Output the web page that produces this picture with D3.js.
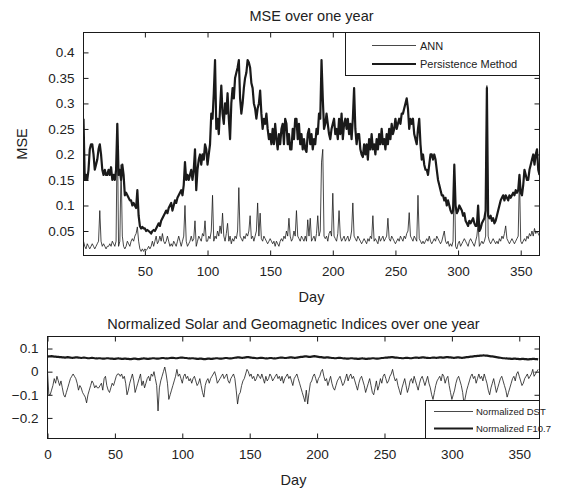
<!DOCTYPE html>
<html><head><meta charset="utf-8">
<script src="https://cdn.jsdelivr.net/npm/d3@7"></script>
<style>body{margin:0;background:#fff}svg{display:block;font-family:"Liberation Sans",Arial,sans-serif}</style>
</head><body><svg id="c" width="573" height="492"></svg>
<script>
// ---- Top panel data (days 1..365) ----
const persistence = [
0.27,0.15,0.16,0.15,0.17,0.21,0.22,0.22,0.20,0.17,
0.18,0.19,0.21,0.22,0.20,0.17,0.16,0.17,0.16,0.16,
0.17,0.16,0.175,0.15,0.16,0.15,0.17,0.26,0.16,0.17,
0.15,0.18,0.16,0.12,0.125,0.12,0.115,0.11,0.11,0.10,
0.105,0.10,0.095,0.13,0.08,0.06,0.055,0.058,0.055,0.055,
0.05,0.052,0.05,0.048,0.045,0.05,0.052,0.05,0.055,0.06,
0.065,0.06,0.07,0.075,0.08,0.085,0.09,0.085,0.095,0.10,
0.105,0.09,0.10,0.11,0.105,0.115,0.12,0.125,0.13,0.12,
0.14,0.185,0.15,0.16,0.15,0.16,0.17,0.15,0.17,0.21,
0.13,0.17,0.19,0.20,0.18,0.20,0.19,0.22,0.21,0.18,
0.20,0.22,0.28,0.27,0.32,0.385,0.25,0.27,0.24,0.29,
0.335,0.28,0.26,0.30,0.28,0.32,0.27,0.23,0.30,0.33,
0.31,0.35,0.36,0.37,0.385,0.31,0.28,0.30,0.33,0.35,
0.36,0.385,0.38,0.37,0.34,0.33,0.30,0.29,0.27,0.29,
0.30,0.325,0.28,0.25,0.27,0.26,0.28,0.25,0.23,0.24,
0.22,0.25,0.22,0.26,0.23,0.21,0.24,0.22,0.25,0.26,
0.22,0.27,0.26,0.22,0.24,0.21,0.21,0.25,0.23,0.27,
0.27,0.23,0.26,0.22,0.24,0.21,0.23,0.21,0.205,0.24,
0.25,0.22,0.24,0.21,0.23,0.22,0.25,0.24,0.28,0.27,
0.385,0.31,0.25,0.26,0.28,0.26,0.24,0.23,0.25,0.26,
0.27,0.24,0.25,0.23,0.27,0.24,0.28,0.23,0.26,0.27,
0.25,0.27,0.24,0.26,0.23,0.27,0.33,0.25,0.22,0.24,
0.24,0.21,0.20,0.195,0.22,0.20,0.22,0.19,0.23,0.21,
0.24,0.21,0.22,0.20,0.23,0.21,0.24,0.22,0.25,0.22,
0.23,0.21,0.24,0.22,0.25,0.23,0.26,0.24,0.25,0.27,
0.25,0.26,0.27,0.26,0.28,0.28,0.29,0.30,0.31,0.29,
0.25,0.27,0.26,0.27,0.24,0.23,0.22,0.25,0.27,0.22,
0.19,0.20,0.18,0.17,0.17,0.16,0.18,0.20,0.20,0.19,
0.20,0.19,0.17,0.15,0.14,0.13,0.12,0.12,0.11,0.115,
0.10,0.11,0.10,0.09,0.085,0.09,0.18,0.10,0.085,0.09,
0.10,0.095,0.09,0.08,0.085,0.07,0.065,0.06,0.07,0.065,
0.07,0.075,0.065,0.06,0.06,0.10,0.05,0.055,0.065,0.07,
0.075,0.09,0.33,0.08,0.075,0.08,0.07,0.075,0.065,0.07,
0.08,0.09,0.10,0.11,0.115,0.12,0.11,0.12,0.115,0.11,
0.12,0.115,0.12,0.125,0.12,0.13,0.125,0.13,0.16,0.125,
0.12,0.14,0.17,0.16,0.15,0.15,0.17,0.18,0.19,0.20,
0.18,0.20,0.21,0.17,0.16];
const ann = [
0.03,0.02,0.015,0.025,0.02,0.015,0.02,0.025,0.02,0.015,
0.02,0.025,0.03,0.09,0.03,0.02,0.025,0.02,0.015,0.02,
0.02,0.025,0.02,0.03,0.025,0.02,0.03,0.26,0.02,0.03,
0.18,0.04,0.02,0.015,0.02,0.03,0.025,0.02,0.03,0.035,
0.03,0.04,0.045,0.058,0.03,0.015,0.01,0.015,0.01,0.015,
0.012,0.015,0.02,0.015,0.02,0.03,0.02,0.03,0.04,0.025,
0.03,0.04,0.03,0.045,0.03,0.025,0.03,0.04,0.03,0.02,
0.025,0.02,0.03,0.025,0.02,0.03,0.04,0.03,0.02,0.03,
0.04,0.10,0.03,0.02,0.025,0.03,0.04,0.03,0.035,0.07,
0.02,0.03,0.04,0.035,0.03,0.045,0.04,0.07,0.03,0.03,
0.04,0.035,0.05,0.12,0.03,0.04,0.035,0.05,0.04,0.06,
0.045,0.085,0.04,0.03,0.045,0.065,0.03,0.04,0.025,0.035,
0.03,0.04,0.035,0.05,0.135,0.04,0.035,0.03,0.04,0.035,
0.045,0.04,0.05,0.08,0.035,0.04,0.03,0.04,0.05,0.105,
0.04,0.085,0.035,0.03,0.04,0.035,0.03,0.025,0.03,0.035,
0.03,0.025,0.03,0.02,0.03,0.025,0.02,0.03,0.035,0.03,
0.04,0.035,0.05,0.04,0.075,0.04,0.03,0.035,0.05,0.04,
0.09,0.04,0.035,0.03,0.04,0.035,0.03,0.04,0.03,0.072,
0.04,0.075,0.03,0.035,0.04,0.03,0.045,0.08,0.04,0.05,
0.185,0.21,0.04,0.035,0.04,0.03,0.045,0.05,0.04,0.124,
0.04,0.035,0.03,0.045,0.09,0.04,0.03,0.035,0.04,0.03,
0.035,0.04,0.03,0.035,0.05,0.105,0.04,0.035,0.03,0.04,
0.035,0.03,0.025,0.03,0.035,0.03,0.025,0.035,0.03,0.04,
0.035,0.08,0.03,0.035,0.03,0.025,0.04,0.03,0.035,0.04,
0.03,0.035,0.04,0.075,0.035,0.03,0.04,0.035,0.03,0.025,
0.03,0.035,0.03,0.04,0.035,0.03,0.04,0.035,0.045,0.05,
0.086,0.04,0.035,0.03,0.04,0.035,0.03,0.12,0.035,0.03,
0.025,0.03,0.025,0.03,0.035,0.03,0.04,0.03,0.025,0.03,
0.035,0.03,0.04,0.035,0.03,0.025,0.03,0.04,0.05,0.03,
0.025,0.03,0.02,0.025,0.02,0.03,0.17,0.02,0.015,0.025,
0.03,0.02,0.025,0.03,0.035,0.03,0.025,0.02,0.03,0.035,
0.03,0.025,0.02,0.03,0.04,0.065,0.02,0.025,0.03,0.025,
0.03,0.04,0.335,0.04,0.03,0.025,0.03,0.035,0.03,0.025,
0.03,0.025,0.035,0.03,0.04,0.035,0.045,0.06,0.035,0.03,
0.025,0.03,0.035,0.03,0.025,0.03,0.035,0.04,0.16,0.03,
0.025,0.03,0.035,0.03,0.04,0.035,0.045,0.04,0.05,0.04,
0.055,0.045,0.05,0.045,0.04];
// ---- Bottom panel data (days 0..364) ----
const dst = [
0.0,-0.10,-0.10,-0.08,-0.06,-0.03,-0.05,-0.02,-0.04,-0.06,
-0.04,-0.07,-0.10,-0.11,-0.09,-0.07,-0.05,-0.03,-0.02,-0.01,
-0.02,-0.03,-0.05,-0.08,-0.06,-0.07,-0.09,-0.10,-0.11,-0.135,
-0.10,-0.08,-0.06,-0.04,-0.05,-0.07,-0.06,-0.07,-0.07,-0.06,
-0.05,-0.08,-0.03,-0.02,-0.06,-0.08,-0.09,-0.07,-0.05,-0.06,
-0.04,-0.02,-0.01,-0.01,-0.02,-0.01,-0.03,-0.02,-0.05,-0.10,
-0.08,-0.05,-0.03,-0.01,-0.04,-0.09,-0.07,-0.05,-0.03,-0.01,
-0.06,-0.04,-0.07,-0.05,-0.03,-0.02,-0.04,-0.01,-0.02,0.0,
-0.03,-0.06,-0.17,-0.07,-0.04,-0.02,0.0,0.02,-0.01,-0.05,
-0.12,-0.10,-0.08,-0.06,-0.04,-0.02,0.01,-0.02,-0.01,-0.03,
-0.05,-0.02,-0.01,-0.03,-0.02,-0.04,-0.03,-0.05,-0.03,-0.02,
-0.04,-0.06,-0.05,-0.03,-0.06,-0.09,-0.11,-0.06,-0.04,-0.03,
-0.05,-0.03,-0.02,-0.01,0.0,-0.02,-0.05,-0.04,-0.03,-0.02,
-0.01,-0.03,-0.02,-0.01,-0.04,-0.05,-0.03,-0.02,-0.01,-0.03,
-0.08,-0.14,-0.10,-0.09,-0.06,-0.04,-0.03,-0.01,0.01,0.0,
-0.02,-0.01,-0.03,-0.02,-0.04,-0.03,-0.01,-0.02,-0.03,-0.01,
-0.03,-0.05,-0.02,-0.04,-0.03,-0.01,-0.02,-0.04,-0.03,-0.02,
-0.01,-0.03,-0.02,-0.04,-0.02,-0.05,-0.03,-0.02,-0.01,-0.03,
-0.02,-0.04,-0.06,-0.03,-0.02,-0.01,-0.03,-0.05,-0.07,-0.09,
-0.11,-0.13,-0.08,-0.14,-0.09,-0.05,-0.04,-0.02,-0.01,-0.03,
-0.05,-0.03,-0.02,0.0,0.01,-0.02,-0.04,-0.03,-0.06,-0.04,
-0.02,-0.05,-0.07,-0.08,-0.06,-0.04,-0.03,-0.02,-0.04,-0.06,
-0.05,-0.03,-0.01,-0.04,-0.02,-0.01,-0.03,-0.02,-0.04,-0.06,
-0.08,-0.05,-0.03,-0.02,-0.04,-0.06,-0.09,-0.07,-0.05,-0.03,
-0.06,-0.09,-0.10,-0.07,-0.04,-0.08,-0.06,-0.03,-0.05,-0.02,
-0.01,-0.03,-0.05,-0.04,-0.02,-0.01,0.01,-0.02,-0.04,-0.03,
-0.06,-0.08,-0.10,-0.07,-0.05,-0.03,-0.06,-0.09,-0.07,-0.04,
-0.03,-0.05,-0.02,-0.04,-0.06,-0.08,-0.05,-0.03,-0.02,-0.04,
-0.06,-0.04,-0.02,-0.05,-0.07,-0.10,-0.12,-0.09,-0.06,-0.04,
-0.03,-0.02,-0.04,-0.01,-0.02,-0.05,-0.03,-0.02,-0.06,-0.09,
-0.12,-0.10,-0.08,-0.05,-0.03,-0.02,-0.04,-0.06,-0.09,-0.14,
-0.11,-0.08,-0.06,-0.04,-0.02,-0.01,-0.03,-0.02,-0.05,-0.03,
-0.01,-0.03,-0.02,-0.04,-0.01,-0.03,-0.05,-0.08,-0.10,-0.07,
-0.05,-0.03,-0.06,-0.09,-0.07,-0.05,-0.03,-0.02,-0.04,-0.06,
-0.08,-0.11,-0.09,-0.07,-0.05,-0.03,-0.02,-0.04,-0.01,0.0,
-0.02,-0.04,-0.06,-0.05,-0.03,-0.02,-0.01,-0.03,-0.02,-0.01,
0.01,-0.02,-0.01,0.0,0.01];
const f107 = [
0.065,0.066,0.066,0.067,0.066,0.065,0.065,0.064,0.064,0.063,
0.063,0.062,0.062,0.061,0.062,0.063,0.062,0.061,0.060,0.060,
0.061,0.062,0.062,0.061,0.060,0.059,0.060,0.061,0.060,0.059,
0.058,0.058,0.059,0.060,0.059,0.058,0.057,0.057,0.058,0.058,
0.057,0.056,0.056,0.057,0.058,0.058,0.057,0.056,0.056,0.055,
0.055,0.056,0.057,0.057,0.056,0.055,0.055,0.056,0.056,0.055,
0.055,0.054,0.054,0.055,0.056,0.056,0.055,0.054,0.054,0.055,
0.056,0.057,0.057,0.056,0.055,0.055,0.056,0.057,0.058,0.058,
0.057,0.056,0.056,0.057,0.058,0.059,0.059,0.058,0.057,0.057,
0.058,0.059,0.060,0.060,0.059,0.058,0.058,0.059,0.060,0.061,
0.061,0.060,0.059,0.059,0.058,0.057,0.057,0.058,0.058,0.057,
0.056,0.055,0.055,0.056,0.056,0.055,0.054,0.054,0.055,0.056,
0.056,0.055,0.055,0.056,0.057,0.058,0.058,0.057,0.056,0.056,
0.057,0.058,0.059,0.059,0.058,0.057,0.057,0.058,0.059,0.060,
0.061,0.062,0.062,0.061,0.060,0.060,0.061,0.062,0.063,0.063,
0.062,0.061,0.060,0.060,0.059,0.058,0.058,0.059,0.060,0.060,
0.059,0.058,0.057,0.057,0.058,0.059,0.059,0.058,0.057,0.057,
0.058,0.059,0.060,0.061,0.061,0.060,0.059,0.059,0.060,0.061,
0.062,0.062,0.061,0.060,0.060,0.061,0.062,0.063,0.064,0.064,
0.065,0.066,0.066,0.065,0.064,0.064,0.065,0.066,0.067,0.066,
0.065,0.064,0.063,0.063,0.062,0.061,0.061,0.062,0.062,0.061,
0.060,0.059,0.059,0.058,0.058,0.059,0.060,0.060,0.059,0.058,
0.057,0.057,0.056,0.056,0.057,0.058,0.058,0.057,0.056,0.056,
0.055,0.055,0.056,0.057,0.057,0.056,0.055,0.055,0.056,0.056,
0.057,0.058,0.058,0.057,0.056,0.056,0.057,0.058,0.059,0.059,
0.060,0.061,0.061,0.062,0.062,0.063,0.063,0.062,0.061,0.061,
0.060,0.059,0.059,0.058,0.058,0.059,0.060,0.060,0.059,0.058,
0.058,0.059,0.060,0.061,0.061,0.060,0.060,0.061,0.062,0.062,
0.061,0.060,0.060,0.059,0.059,0.060,0.061,0.061,0.060,0.060,
0.061,0.062,0.062,0.061,0.061,0.062,0.063,0.063,0.062,0.062,
0.061,0.060,0.060,0.061,0.062,0.062,0.061,0.060,0.060,0.061,
0.062,0.063,0.063,0.064,0.065,0.065,0.066,0.067,0.067,0.068,
0.068,0.069,0.069,0.070,0.070,0.069,0.069,0.068,0.067,0.066,
0.066,0.065,0.064,0.063,0.062,0.061,0.060,0.059,0.058,0.058,
0.057,0.057,0.056,0.056,0.055,0.055,0.056,0.056,0.055,0.055,
0.054,0.054,0.055,0.055,0.054,0.054,0.053,0.053,0.054,0.054,
0.055,0.055,0.054,0.054,0.053];

const topXTicks = [50,100,150,200,250,300,350];
const topYTicks = [0.05,0.1,0.15,0.2,0.25,0.3,0.35,0.4];
const botXTicks = [0,50,100,150,200,250,300,350];
const botYTicks = [-0.2,-0.1,0,0.1];
const topLegend = ["ANN","Persistence Method"];
const botLegend = ["Normalized DST","Normalized F10.7"];

const svg = d3.select("#c");
const ink = "#1a1a1a";
const tickLen = 5;

function panel(box, xDom, yDom, xTicks, yTicks, fmtY) {
  const x = d3.scaleLinear().domain(xDom).range([box.l, box.r]);
  const y = d3.scaleLinear().domain(yDom).range([box.b, box.t]);
  const g = svg.append("g");
  const ax = (gen, tr) => g.append("g").attr("transform", tr).call(gen)
     .call(s => { s.select(".domain").remove(); s.selectAll("line").attr("stroke", ink); s.selectAll("text").attr("fill", "#222").style("font-size","13.5px").style("font-family",'"Liberation Sans",Arial,sans-serif'); });
  ax(d3.axisBottom(x).tickValues(xTicks).tickSizeInner(-tickLen).tickPadding(11).tickFormat(d3.format("d")), `translate(0,${box.b})`);
  ax(d3.axisTop(x).tickValues(xTicks).tickSizeInner(-tickLen).tickFormat(""), `translate(0,${box.t})`);
  ax(d3.axisLeft(y).tickValues(yTicks).tickSizeInner(-tickLen).tickPadding(9).tickFormat(fmtY), `translate(${box.l},0)`);
  ax(d3.axisRight(y).tickValues(yTicks).tickSizeInner(-tickLen).tickFormat(""), `translate(${box.r},0)`);
  g.append("rect").attr("x", box.l).attr("y", box.t).attr("width", box.r - box.l).attr("height", box.b - box.t)
    .attr("fill", "none").attr("stroke", ink).attr("stroke-width", 1);
  const clipId = "clip" + Math.round(box.t);
  svg.append("clipPath").attr("id", clipId).append("rect")
    .attr("x", box.l).attr("y", box.t).attr("width", box.r - box.l).attr("height", box.b - box.t);
  return {x, y, g, clipId};
}

const fmtTop = d => d3.format("")(+d.toFixed(2));
const fmtBot = d => d === 0 ? "0" : d3.format("")(+d.toFixed(1));

// ---- Top panel ----
const T = {l: 83.5, r: 539.5, t: 32.5, b: 255.5};
const p1 = panel(T, [1, 365], [0.002, 0.439], topXTicks, topYTicks, fmtTop);
const line1 = d3.line().x((d, i) => p1.x(i + 1)).y(d => p1.y(d));
const lines1 = svg.append("g").attr("clip-path", `url(#${p1.clipId})`);
lines1.append("path").datum(ann).attr("d", line1).attr("fill", "none").attr("stroke", ink).attr("stroke-width", 0.8).attr("stroke-linejoin","round");
lines1.append("path").datum(persistence).attr("d", line1).attr("fill", "none").attr("stroke", ink).attr("stroke-width", 2.2).attr("stroke-linejoin","round");

svg.append("text").attr("x", (T.l + T.r) / 2).attr("y", 21).attr("text-anchor", "middle")
  .style("font-size", "14.5px").attr("fill", "#222").text("MSE over one year");
svg.append("text").attr("x", (T.l + T.r) / 2).attr("y", 302).attr("text-anchor", "middle")
  .style("font-size", "14.5px").attr("fill", "#222").text("Day");
svg.append("text").attr("transform", `translate(27,${(T.t + T.b) / 2}) rotate(-90)`).attr("text-anchor", "middle")
  .style("font-size", "14.5px").attr("fill", "#222").text("MSE");

const L1 = {l: 345.5, t: 32.5, r: 539.5, b: 75.5};
svg.append("rect").attr("x", L1.l).attr("y", L1.t).attr("width", L1.r - L1.l).attr("height", L1.b - L1.t)
  .attr("fill", "#fff").attr("stroke", ink);
topLegend.forEach((name, i) => {
  const yy = 45.5 + i * 18.5;
  svg.append("line").attr("x1", 372).attr("x2", 416).attr("y1", yy).attr("y2", yy)
    .attr("stroke", ink).attr("stroke-width", i === 0 ? 0.8 : 2.2);
  svg.append("text").attr("x", 420).attr("y", yy + 4).style("font-size", "11px").attr("fill", "#222").text(name);
});

// ---- Bottom panel ----
const B = {l: 47.5, r: 539.5, t: 336.5, b: 438.5};
const p2 = panel(B, [0, 365], [-0.289, 0.152], botXTicks, botYTicks, fmtBot);
const line2 = d3.line().x((d, i) => p2.x(i)).y(d => p2.y(d));
const lines2 = svg.append("g").attr("clip-path", `url(#${p2.clipId})`);
lines2.append("path").datum(dst).attr("d", line2).attr("fill", "none").attr("stroke", ink).attr("stroke-width", 0.8).attr("stroke-linejoin","round");
lines2.append("path").datum(f107).attr("d", line2).attr("fill", "none").attr("stroke", ink).attr("stroke-width", 2.2).attr("stroke-linejoin","round");

svg.append("text").attr("x", (B.l + B.r) / 2).attr("y", 329).attr("text-anchor", "middle")
  .style("font-size", "14.5px").attr("fill", "#222").text("Normalized Solar and Geomagnetic Indices over one year");
svg.append("text").attr("x", (B.l + B.r) / 2).attr("y", 485).attr("text-anchor", "middle")
  .style("font-size", "14.5px").attr("fill", "#222").text("Day");

const L2 = {l: 425.5, t: 400.5, r: 539.5, b: 438.5};
svg.append("rect").attr("x", L2.l).attr("y", L2.t).attr("width", L2.r - L2.l).attr("height", L2.b - L2.t)
  .attr("fill", "#fff").attr("stroke", ink);
botLegend.forEach((name, i) => {
  const yy = 411.5 + i * 17;
  svg.append("line").attr("x1", 434).attr("x2", 473).attr("y1", yy).attr("y2", yy)
    .attr("stroke", ink).attr("stroke-width", i === 0 ? 0.8 : 2.2);
  svg.append("text").attr("x", 476).attr("y", yy + 3.5).style("font-size", "9.5px").attr("fill", "#222").text(name);
});
</script></body></html>
